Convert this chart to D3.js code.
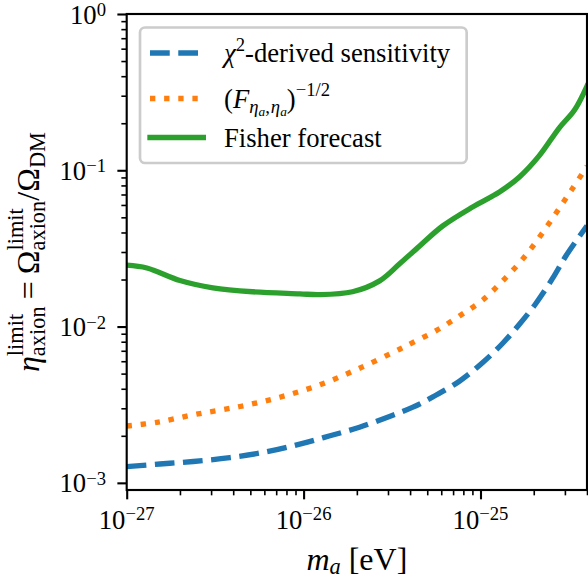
<!DOCTYPE html>
<html>
<head>
<meta charset="utf-8">
<style>
    body { margin: 0; background: #fff; }
    svg { display: block; }
    text { font-family: 'Liberation Serif', 'DejaVu Serif', serif; fill: #000; }
    .axis .domain { display: none; }
    .axis .tick line { stroke: #000; }
    .major .tick line { stroke-width: 2.1px; }
    .minor .tick line { stroke-width: 1.6px; }
</style>
</head>
<body>
<svg width="588" height="578"></svg>
<script src="https://cdnjs.cloudflare.com/ajax/libs/d3/7.8.5/d3.min.js"></script>
<script>
// chi^2-derived sensitivity (blue, dashed)
const massChi = [1.00e-27, 1.54e-27, 2.38e-27, 3.83e-27, 6.17e-27, 9.51e-27, 1.41e-26, 2.07e-26, 3.06e-26,
    4.15e-26, 5.38e-26, 7.60e-26, 1.03e-25, 1.34e-25, 1.66e-25, 2.06e-25, 2.56e-25, 3.05e-25, 4.00e-25]
const etaChi = [0.00127, 0.00132, 0.00137, 0.00145, 0.00158, 0.00177, 0.00200, 0.00227, 0.00266,
    0.00305, 0.00355, 0.00447, 0.00589, 0.00785, 0.01035, 0.0141, 0.0204, 0.0285, 0.0442]

// (F_eta,eta)^-1/2 (orange, dotted)
const massInvF = [1.00e-27, 1.48e-27, 2.48e-27, 4.37e-27, 7.33e-27, 1.23e-26, 2.07e-26, 3.49e-26, 4.06e-26,
    5.62e-26, 7.60e-26, 1.03e-25, 1.34e-25, 1.73e-25, 2.15e-25, 2.67e-25, 3.25e-25, 4.00e-25]
const etaInvF = [0.00231, 0.00244, 0.00275, 0.00308, 0.00353, 0.00423, 0.00541, 0.00716, 0.00782,
    0.00942, 0.0117, 0.0148, 0.0197, 0.0270, 0.0372, 0.0531, 0.0740, 0.106]

// Fisher forecast (green, solid)
const massFisher = [1.00e-27, 1.30e-27, 2.00e-27, 3.07e-27, 5.16e-27, 9.51e-27, 1.23e-26, 1.89e-26, 2.69e-26,
    3.49e-26, 4.53e-26, 6.11e-26, 9.02e-26, 1.28e-25, 1.66e-25, 2.15e-25, 2.79e-25, 3.40e-25, 4.00e-25]
const etaFisher = [0.0247, 0.0237, 0.0197, 0.0177, 0.0167, 0.0162, 0.0160, 0.0167, 0.0196,
    0.0252, 0.0328, 0.0440, 0.0582, 0.0726, 0.0906, 0.124, 0.187, 0.243, 0.346]

const xMajor = [1e-27, 1e-26, 1e-25]
const xExp = ["\u221227", "\u221226", "\u221225"]
const yMajor = [1e-3, 1e-2, 1e-1, 1e0]
const yExp = ["\u22123", "\u22122", "\u22121", "0"]
const minorMult = [2, 3, 4, 5, 6, 7, 8, 9]

const pt = 2.667
const tickFont = 10 * pt
const labelFont = 12 * pt

let svg = d3.select("svg")
let margin = {top: 14, right: 1, bottom: 88, left: 126.7}
let width = 588, height = 578

let x = d3.scaleLog()
    .domain([1e-27, 4e-25])
    .range([margin.left, width - margin.right])

let y = d3.scaleLog()
    .domain([9e-4, 1])
    .range([height - margin.bottom, margin.top])

// lay out a row of text pieces (sub/superscripts) and return its width
function mathText(parent, parts, size, anchor) {
    let g = parent.append("g")
    let cur = 0, hold = null
    parts.forEach(p => {
        let t = g.append("text")
            .attr("font-size", size * (p.s || 1))
            .attr("font-style", p.it ? "italic" : null)
            .attr("y", -(p.up || 0) * size)
            .text(p.t)
        let w = t.node().getComputedTextLength()
        let start = hold ? hold.start : cur + (p.padL || 0) * size
        t.attr("x", start)
        let end = start + w + (p.padR || 0) * size
        if (p.stack) { hold = {start: start, end: end}; cur = end }
        else if (hold) { cur = Math.max(hold.end, end); hold = null }
        else cur = end
    })
    let shift = anchor == "middle" ? -cur / 2 : anchor == "end" ? -cur : 0
    g.attr("transform", `translate(${shift},0)`)
    return cur
}

// clip
svg.append("clipPath").attr("id", "plot-clip")
    .append("rect")
    .attr("x", margin.left).attr("y", margin.top)
    .attr("width", width - margin.right - margin.left)
    .attr("height", height - margin.bottom - margin.top)

// ticks
let xMinor = []
xMajor.forEach(d => minorMult.forEach(k => { let v = k * d; if (v <= 4e-25 * 1.0001) xMinor.push(v) }))
let yMinor = []
yMajor.slice(0, 3).forEach(d => minorMult.forEach(k => yMinor.push(k * d)))

svg.append("g")
    .attr("class", "axis minor")
    .attr("transform", `translate(0, ${height - margin.bottom})`)
    .call(d3.axisBottom(x).tickValues(xMinor).tickSize(2 * pt).tickFormat(""))

svg.append("g")
    .attr("class", "axis major")
    .attr("transform", `translate(0, ${height - margin.bottom})`)
    .call(d3.axisBottom(x).tickValues(xMajor).tickSize(3.5 * pt).tickFormat(""))

svg.append("g")
    .attr("class", "axis minor")
    .attr("transform", `translate(${margin.left}, 0)`)
    .call(d3.axisLeft(y).tickValues(yMinor).tickSize(2 * pt).tickFormat(""))

svg.append("g")
    .attr("class", "axis major")
    .attr("transform", `translate(${margin.left}, 0)`)
    .call(d3.axisLeft(y).tickValues(yMajor).tickSize(3.5 * pt).tickFormat(""))

// tick labels
xMajor.forEach((v, i) => {
    let g = svg.append("g").attr("transform", `translate(${x(v)}, 529)`)
    mathText(g, [{t: "10"}, {t: xExp[i], s: 0.7, up: 0.34}], tickFont, "middle")
})

yMajor.forEach((v, i) => {
    let g = svg.append("g").attr("transform", `translate(106, ${y(v) + 9.5})`)
    mathText(g, [{t: "10"}, {t: yExp[i], s: 0.7, up: 0.28}], tickFont, "end")
})

// lines
let line = d3.line()
    .x(d => x(d[0]))
    .y(d => y(d[1]))
    .curve(d3.curveCatmullRom.alpha(0.5))

let series = [
    {m: massChi, e: etaChi, color: "#1f77b4", dash: `${3.7 * 2 * pt} ${1.6 * 2 * pt}`, cap: "butt"},
    {m: massInvF, e: etaInvF, color: "#ff7f0e", dash: `${1 * 2 * pt} ${1.65 * 2 * pt}`, cap: "butt"},
    {m: massFisher, e: etaFisher, color: "#2ca02c", dash: null, cap: "square"}
]

let lines = svg.append("g").attr("clip-path", "url(#plot-clip)")
series.forEach(s => {
    lines.append("path")
        .attr("d", line(s.m.map((m, i) => [m, s.e[i]])))
        .attr("fill", "none")
        .attr("stroke", s.color)
        .attr("stroke-width", 2 * pt)
        .attr("stroke-dasharray", s.dash)
        .attr("stroke-linecap", s.cap)
        .attr("stroke-linejoin", "round")
})

// frame
svg.append("rect")
    .attr("x", margin.left).attr("y", margin.top)
    .attr("width", width - margin.right - margin.left)
    .attr("height", height - margin.bottom - margin.top)
    .attr("fill", "none")
    .attr("stroke", "#000")
    .attr("stroke-width", 0.8 * pt)

// axis labels
let xl = svg.append("g").attr("transform", `translate(${(margin.left + width - margin.right) / 2}, 569.5)`)
mathText(xl, [
    {t: "m", it: true},
    {t: "a", it: true, s: 0.7, up: -0.15},
    {t: "[eV]", padL: 0.25}
], labelFont, "middle")

let yl = svg.append("g").attr("transform", `translate(39, ${(margin.top + height - margin.bottom) / 2}) rotate(-90)`)
mathText(yl, [
    {t: "\u03b7", it: true},
    {t: "limit", s: 0.7, up: 0.5, stack: true},
    {t: "axion", s: 0.7, up: -0.2},
    {t: "=", padL: 0.22, padR: 0.22},
    {t: "\u03a9"},
    {t: "limit", s: 0.7, up: 0.5, stack: true},
    {t: "axion", s: 0.7, up: -0.2},
    {t: "/"},
    {t: "\u03a9"},
    {t: "DM", s: 0.7, up: -0.2}
], labelFont, "middle")

// legend
let legendRows = [
    [{t: "\u03c7", it: true}, {t: "2", s: 0.7, up: 0.42}, {t: "-derived sensitivity"}],
    [{t: "("}, {t: "F", it: true},
        {t: "\u03b7", it: true, s: 0.7, up: -0.2}, {t: "a", it: true, s: 0.5, up: -0.32},
        {t: ",", s: 0.7, up: -0.2}, {t: "\u03b7", it: true, s: 0.7, up: -0.2, padL: 0.04},
        {t: "a", it: true, s: 0.5, up: -0.32},
        {t: ")"}, {t: "\u22121/2", s: 0.7, up: 0.45}],
    [{t: "Fisher forecast"}]
]
let rowY = [53, 98.5, 137.5]
let legend = svg.append("g")
let box = legend.append("rect")
    .attr("x", 140).attr("y", 27.5)
    .attr("height", 135.5)
    .attr("rx", 5).attr("ry", 5)
    .attr("fill", "#fff").attr("fill-opacity", 0.8)
    .attr("stroke", "#cccccc").attr("stroke-width", pt)

let maxW = 0
series.forEach((s, i) => {
    legend.append("line")
        .attr("x1", 150).attr("x2", 150 + 2 * tickFont)
        .attr("y1", rowY[i]).attr("y2", rowY[i])
        .attr("stroke", s.color)
        .attr("stroke-width", 2 * pt)
        .attr("stroke-dasharray", s.dash)
        .attr("stroke-linecap", s.cap)
    let g = legend.append("g").attr("transform", `translate(224, ${rowY[i] + 9.3})`)
    maxW = Math.max(maxW, mathText(g, legendRows[i], tickFont, "start"))
})
box.attr("width", 224 + maxW + 0.62 * tickFont - 140)
</script>
</body>
</html>
